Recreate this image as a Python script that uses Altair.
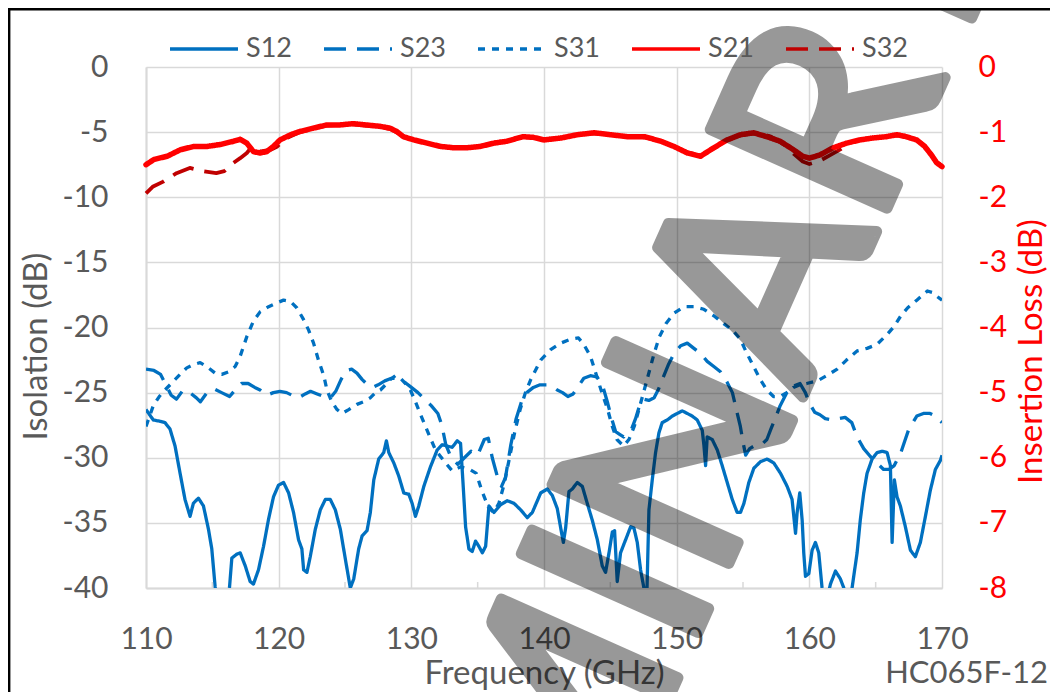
import altair as alt
import pandas as pd

# ---------------- axes / ticks ----------------
FREQ_TICKS = [110, 120, 130, 140, 150, 160, 170]
MINOR_TICKS = [115, 125, 135, 145, 155, 165]
ISO_TICKS = [-40, -35, -30, -25, -20, -15, -10, -5, 0]
IL_TICKS = [-8, -7, -6, -5, -4, -3, -2, -1, 0]
SERIES = ["S12", "S23", "S31", "S21", "S32"]
COLORS = ["#0070c0", "#0070c0", "#0070c0", "#ff0000", "#c00000"]
DASHES = [[1, 0], [22, 11], [7, 7], [1, 0], [22, 11]]

# ---------------- Isolation (dB) ----------------
S12_F = [110.0, 110.55, 111.06, 111.43, 111.81, 112.19, 112.57, 112.94, 113.32, 113.57, 113.95, 114.33, 114.71, 114.96, 115.21, 115.5, 116.0, 116.29, 116.47, 116.85, 117.10, 117.48, 117.85, 118.10, 118.48, 118.86, 119.24, 119.61, 119.99, 120.37, 120.75, 121.12, 121.50, 121.75, 121.88, 122.13, 122.38, 122.76, 123.14, 123.52, 123.89, 124.27, 124.65, 125.03, 125.40, 125.66, 126.03, 126.29, 126.66, 126.91, 127.17, 127.54, 127.92, 128.12, 128.30, 128.68, 129.05, 129.43, 129.81, 130.06, 130.31, 130.56, 130.94, 131.44, 131.95, 132.33, 132.70, 133.08, 133.46, 133.71, 133.9, 134.09, 134.34, 134.59, 134.84, 135.09, 135.35, 135.6, 135.85, 136.23, 136.73, 137.23, 137.74, 138.24, 138.74, 139.12, 139.5, 139.75, 140.25, 140.63, 141.0, 141.26, 141.46, 141.63, 141.88, 142.13, 142.51, 142.89, 143.26, 143.64, 144.02, 144.39, 144.64, 144.9, 145.15, 145.32, 145.52, 145.77, 146.15, 146.53, 146.78, 147.03, 147.28, 147.53, 147.73, 147.91, 148.16, 148.41, 148.66, 148.91, 149.29, 149.67, 150.04, 150.42, 150.8, 151.17, 151.55, 151.93, 152.05, 152.18, 152.3, 152.68, 153.06, 153.43, 153.81, 154.19, 154.56, 154.81, 155.07, 155.44, 155.82, 156.32, 156.82, 157.32, 157.83, 158.33, 158.7, 158.88, 158.96, 159.08, 159.28, 159.46, 159.58, 159.71, 159.96, 160.21, 160.46, 160.71, 160.96, 161.2, 161.59, 161.97, 162.34, 162.6, 162.85, 163.22, 163.6, 163.85, 164.1, 164.35, 164.73, 165.11, 165.48, 165.86, 166.11, 166.24, 166.41, 166.61, 166.86, 167.24, 167.62, 167.99, 168.37, 168.75, 169.12, 169.5, 169.88, 170.0]
S12_DB = [-26.3, -27.1, -27.2, -27.3, -27.8, -29.1, -31.2, -33.2, -34.5, -33.5, -33.1, -33.7, -35.5, -37.0, -39.9, -42.5, -42.0, -40.0, -37.7, -37.4, -37.3, -38.3, -39.5, -39.7, -38.6, -36.8, -34.7, -33.0, -32.1, -31.9, -32.7, -34.2, -36.3, -37.0, -38.6, -38.8, -37.6, -35.5, -34.0, -33.2, -33.2, -34.0, -35.5, -37.8, -40.0, -39.3, -37.0, -36.0, -35.6, -34.2, -31.7, -30.1, -29.6, -28.7, -29.6, -30.4, -31.4, -32.7, -32.8, -33.5, -34.5, -33.7, -32.2, -30.7, -29.4, -29.0, -29.1, -29.2, -28.7, -28.9, -32.0, -35.3, -37.0, -37.2, -36.4, -36.8, -37.3, -36.8, -33.7, -34.2, -33.6, -33.3, -33.5, -34.0, -34.6, -34.2, -33.3, -32.7, -32.4, -32.9, -33.9, -35.4, -36.5, -35.4, -32.6, -32.4, -31.9, -32.2, -33.5, -34.8, -36.3, -38.3, -38.8, -37.3, -35.7, -35.6, -39.5, -37.3, -36.3, -35.3, -35.4, -36.5, -38.6, -40.0, -41.5, -34.0, -31.7, -29.6, -28.1, -27.3, -27.1, -26.8, -26.6, -26.4, -26.6, -26.8, -27.1, -27.9, -29.0, -30.6, -28.4, -28.6, -29.4, -30.6, -31.9, -33.2, -34.2, -34.2, -33.5, -31.9, -30.8, -30.3, -30.1, -30.4, -31.2, -32.2, -33.2, -35.0, -35.8, -34.2, -32.7, -34.8, -37.3, -39.1, -38.9, -37.1, -36.5, -37.3, -40.0, -41.5, -39.7, -38.7, -39.3, -40.0, -42.0, -40.0, -37.3, -34.7, -32.7, -31.2, -30.1, -29.6, -29.5, -29.6, -30.6, -36.5, -31.7, -33.0, -33.7, -35.3, -37.1, -37.6, -36.5, -34.5, -32.5, -30.9, -30.2, -29.8]

S23_F = [110.0, 110.6, 111.1, 111.5, 111.9, 112.3, 112.8, 113.3, 113.8, 114.1, 114.6, 115.1, 115.7, 116.3, 116.8, 117.2, 117.7, 118.2, 118.6, 119.1, 119.6, 120.1, 120.6, 121.0, 121.5, 122.0, 122.4, 122.9, 123.4, 123.9, 124.3, 124.7, 125.1, 125.5, 125.9, 126.3, 126.7, 127.1, 127.5, 128.0, 128.5, 129.0, 129.5, 130.0, 130.5, 131.0, 131.5, 132.0, 132.3, 132.6, 133.0, 133.5, 134.0, 134.5, 135.0, 135.5, 135.8, 136.1, 136.5, 136.8, 137.1, 137.5, 137.9, 138.3, 138.7, 139.2, 139.7, 140.2, 140.6, 141.0, 141.4, 141.8, 142.2, 142.6, 143.0, 143.5, 144.0, 144.4, 144.8, 145.1, 145.4, 145.7, 146.0, 146.3, 146.6, 146.9, 147.2, 147.5, 147.9, 148.3, 148.6, 149.0, 149.4, 149.8, 150.3, 150.8, 151.3, 151.8, 152.3, 152.8, 153.3, 153.8, 154.2, 154.5, 154.8, 155.0, 155.2, 155.5, 156.0, 156.5, 156.8, 157.1, 157.5, 157.8, 158.3, 158.8, 159.3, 159.7, 160.0, 160.4, 160.8, 161.2, 161.7, 162.2, 162.7, 163.2, 163.6, 164.1, 164.6, 165.1, 165.6, 166.0, 166.4, 166.9, 167.2, 167.5, 168.1, 168.6, 169.1, 169.5, 170.0]
S23_DB = [-23.2, -23.3, -23.6, -24.4, -25.2, -25.5, -24.8, -25.0, -25.4, -25.7, -25.0, -24.7, -25.0, -25.3, -24.7, -24.3, -24.3, -24.6, -24.8, -25.2, -25.0, -24.9, -25.0, -25.2, -25.4, -25.1, -24.9, -25.1, -25.3, -25.4, -24.9, -24.0, -23.3, -23.2, -23.5, -24.0, -24.4, -24.6, -24.4, -24.1, -23.9, -23.9, -24.2, -24.6, -25.0, -25.5, -26.0, -26.6, -27.5, -29.0, -30.0, -30.5, -30.0, -29.5, -29.8, -28.6, -28.5, -30.0, -31.5, -32.2, -31.5, -29.0, -27.0, -25.7, -25.0, -24.6, -24.4, -24.4, -24.5, -24.8, -25.0, -25.3, -25.1, -24.5, -23.9, -23.7, -23.8, -24.4, -25.8, -27.0, -28.0, -28.2, -28.4, -28.0, -27.8, -27.0, -26.0, -25.5, -25.6, -25.4, -24.8, -23.8, -22.8, -22.0, -21.4, -21.2, -21.6, -22.0, -22.6, -23.0, -23.4, -24.2, -25.0, -26.3, -27.6, -28.8, -29.8, -29.3, -29.0, -28.9, -28.6, -27.8, -26.8, -26.0, -25.0, -24.5, -24.3, -25.0, -25.8, -26.5, -26.7, -27.0, -27.1, -27.0, -26.9, -27.3, -28.4, -29.3, -29.9, -30.4, -30.9, -30.9, -30.6, -29.6, -28.7, -27.8, -26.8, -26.6, -26.6, -26.8, -27.3]

S31_F = [110.0, 110.55, 111.0, 111.43, 112.0, 112.57, 113.07, 113.57, 114.08, 114.58, 115.21, 115.71, 116.22, 116.72, 117.1, 117.6, 118.1, 118.6, 119.24, 119.87, 120.37, 120.88, 121.38, 121.88, 122.26, 122.63, 123.0, 123.4, 123.64, 124.0, 124.4, 124.77, 125.28, 125.9, 126.4, 126.9, 127.3, 127.67, 128.05, 128.4, 128.8, 129.18, 129.56, 129.93, 130.31, 130.7, 131.07, 131.44, 131.82, 132.2, 132.58, 133.08, 133.7, 134.4, 134.9, 135.3, 135.8, 136.2, 136.6, 137.0, 137.4, 137.8, 138.2, 138.6, 139.0, 139.4, 139.75, 140.5, 141.26, 142.0, 142.6, 143.0, 143.5, 143.9, 144.3, 144.8, 145.15, 145.5, 146.0, 146.4, 146.8, 147.15, 147.5, 147.9, 148.3, 148.7, 149.2, 149.8, 150.55, 151.3, 152.05, 152.8, 153.55, 154.2, 154.8, 155.3, 155.8, 156.3, 156.8, 157.3, 157.8, 158.3, 158.8, 159.3, 159.8, 160.6, 161.3, 162.1, 162.8, 163.6, 164.35, 165.1, 165.9, 166.4, 166.9, 167.4, 168.1, 168.9, 169.25, 169.6, 170.0]
S31_DB = [-27.6, -26.0, -25.3, -24.8, -24.2, -23.6, -23.1, -22.85, -22.7, -23.0, -23.5, -23.6, -23.4, -23.0, -22.2, -20.7, -19.5, -18.8, -18.4, -18.1, -17.9, -18.0, -18.5, -19.4, -20.2, -21.2, -22.5, -23.7, -24.8, -25.7, -26.3, -26.6, -26.3, -25.9, -25.7, -25.4, -25.0, -24.8, -24.4, -24.0, -23.7, -23.9, -24.3, -24.8, -25.7, -26.7, -27.6, -28.5, -29.4, -29.9, -30.4, -31.0, -30.7, -30.9, -31.2, -32.5, -33.8, -34.2, -33.5, -32.0, -30.0, -28.0, -26.3, -25.0, -24.0, -23.2, -22.5, -21.7, -21.2, -20.9, -20.8, -21.3, -22.2, -23.5, -24.8, -26.3, -27.6, -28.6, -29.1, -28.6, -27.6, -26.3, -25.0, -23.5, -22.0, -20.7, -19.7, -18.9, -18.4, -18.4, -18.6, -19.1, -19.7, -20.2, -20.9, -22.0, -23.0, -24.0, -24.8, -25.3, -25.3, -25.0, -24.6, -24.4, -24.3, -24.1, -23.7, -23.2, -22.5, -21.8, -21.6, -21.3, -20.5, -19.9, -19.1, -18.5, -17.9, -17.2, -17.3, -17.6, -17.9]

# ---------------- Insertion loss (dB) ----------------
S21_F = [110.0, 110.6, 111.6, 112.6, 113.6, 114.6, 115.6, 116.6, 117.1, 117.6, 118.1, 118.6, 119.1, 119.6, 120.1, 120.9, 121.6, 122.6, 123.6, 124.6, 125.6, 126.6, 127.6, 128.4, 128.9, 129.4, 130.2, 131.2, 132.2, 133.2, 134.2, 135.2, 136.2, 137.2, 138.4, 139.2, 140.0, 141.3, 142.5, 143.8, 145.0, 146.3, 147.6, 148.8, 149.8, 150.8, 151.8, 152.8, 153.8, 154.8, 155.8, 156.8, 157.8, 158.8, 159.5, 160.0, 160.8, 161.8, 162.8, 163.8, 164.8, 165.8, 166.6, 167.3, 168.1, 168.7, 169.2, 169.6, 170.0]
S21_IL = [-1.50, -1.42, -1.37, -1.27, -1.22, -1.22, -1.19, -1.14, -1.11, -1.17, -1.30, -1.32, -1.30, -1.22, -1.12, -1.04, -0.99, -0.94, -0.89, -0.89, -0.87, -0.89, -0.91, -0.94, -0.99, -1.07, -1.12, -1.17, -1.22, -1.24, -1.24, -1.22, -1.17, -1.14, -1.07, -1.08, -1.12, -1.09, -1.04, -1.01, -1.04, -1.07, -1.07, -1.14, -1.22, -1.32, -1.37, -1.24, -1.12, -1.04, -1.01, -1.07, -1.14, -1.27, -1.37, -1.40, -1.35, -1.24, -1.17, -1.12, -1.09, -1.07, -1.04, -1.07, -1.12, -1.22, -1.35, -1.47, -1.53]

S32_F = [110.0, 110.5, 111.3, 112.3, 113.3, 114.3, 115.3, 115.9, 116.6, 117.1, 117.6, 118.0, 118.6, 119.4, 119.9, 120.5, 121.6, 122.6, 123.6, 124.6, 125.6, 126.6, 127.6, 128.4, 129.4, 130.2, 131.2, 132.2, 133.2, 134.2, 135.2, 136.2, 137.2, 138.4, 140.0, 141.3, 142.5, 143.8, 145.0, 146.3, 147.6, 148.8, 149.8, 150.8, 151.8, 152.8, 153.8, 154.8, 155.8, 156.6, 157.1, 158.1, 158.8, 159.5, 160.0, 160.8, 161.5, 162.3, 163.0, 163.8, 164.8, 165.8, 166.6, 167.3, 168.1, 168.7, 169.2, 169.6, 170.0]
S32_IL = [-1.94, -1.84, -1.76, -1.63, -1.55, -1.60, -1.63, -1.60, -1.47, -1.40, -1.32, -1.22, -1.30, -1.27, -1.22, -1.10, -1.00, -0.95, -0.90, -0.89, -0.88, -0.90, -0.92, -0.95, -1.06, -1.12, -1.17, -1.22, -1.24, -1.24, -1.21, -1.17, -1.13, -1.07, -1.11, -1.09, -1.04, -1.02, -1.04, -1.07, -1.08, -1.14, -1.22, -1.31, -1.36, -1.25, -1.12, -1.05, -1.02, -1.04, -1.07, -1.19, -1.33, -1.45, -1.49, -1.44, -1.36, -1.27, -1.17, -1.12, -1.09, -1.07, -1.05, -1.07, -1.12, -1.21, -1.34, -1.46, -1.52]

WATERMARK = "PRELIMINARY"
PART_NO = "HC065F-12"

W, H = 796, 521
GREY = "#595959"
GRID = "#d9d9d9"
FONT = "Lato"
HYPHEN = "'' + datum.value"


def frame(name, f, v):
    return pd.DataFrame({"f": f, "v": v, "series": name})


blue_df = pd.concat([frame("S12", S12_F, S12_DB),
                     frame("S23", S23_F, S23_DB),
                     frame("S31", S31_F, S31_DB)], ignore_index=True)
s21_df = frame("S21", S21_F, S21_IL)
s32_df = frame("S32", S32_F, S32_IL)
minor_df = pd.DataFrame({"f": MINOR_TICKS})

x_axis = alt.Axis(values=FREQ_TICKS, title="Frequency (GHz)", grid=True,
                  gridColor=GRID, gridWidth=1.5, ticks=False, tickSize=0,
                  domain=True, domainColor=GRID, domainWidth=2,
                  labelFlush=False, labelOverlap=False,
                  labelBaseline="alphabetic", labelPadding=60,
                  titleBaseline="alphabetic", titleY=95, titleX=W / 2)
X = alt.X("f:Q", scale=alt.Scale(domain=[110, 170], nice=False, zero=False), axis=x_axis)

left_axis = alt.Axis(values=ISO_TICKS, title="Isolation (dB)", grid=True,
                     gridColor=GRID, gridWidth=1.5, ticks=False, tickSize=0,
                     domain=True, domainColor=GRID, domainWidth=2,
                     labelFlush=False, labelOverlap=False, labelExpr=HYPHEN,
                     labelPadding=38, labelBaseline="middle",
                     titleAngle=270, titleX=-110, titleY=279,
                     titleAlign="center", titleBaseline="middle")
right_axis = alt.Axis(values=IL_TICKS, title="Insertion Loss (dB)", grid=False,
                      ticks=False, tickSize=0, domain=False, orient="right",
                      labelFlush=False, labelOverlap=False, labelExpr=HYPHEN,
                      labelColor="#ff0000", titleColor="#ff0000",
                      labelPadding=36, labelBaseline="middle",
                      titleAngle=270, titleX=89, titleY=284,
                      titleAlign="center", titleBaseline="middle")

color = alt.Color("series:N", scale=alt.Scale(domain=SERIES, range=COLORS), title=None)
dash = alt.StrokeDash("series:N", scale=alt.Scale(domain=SERIES, range=DASHES), title=None)

blue = alt.Chart(blue_df).mark_line(clip=True, strokeWidth=3.3, strokeJoin="round").encode(
    x=X,
    y=alt.Y("v:Q", scale=alt.Scale(domain=[-40, 0], nice=False), axis=left_axis),
    color=color, strokeDash=dash)

minor = alt.Chart(minor_df).mark_rule(color=GRID, strokeWidth=1.5).encode(
    x=X, y=alt.value(H - 6), y2=alt.value(H))

Y_IL = alt.Y("v:Q", scale=alt.Scale(domain=[-8, 0], nice=False), axis=right_axis)
red32 = alt.Chart(s32_df).mark_line(strokeWidth=3.8, strokeJoin="round").encode(
    x=X, y=Y_IL, color=color, strokeDash=dash)
red21 = alt.Chart(s21_df).mark_line(strokeWidth=5.5, strokeJoin="round", strokeCap="round").encode(
    x=X, y=Y_IL, color=color, strokeDash=dash)

one = pd.DataFrame({"k": [0]})
border = alt.Chart(one).mark_rect(fillOpacity=0, stroke="black", strokeWidth=2.4).encode(
    x=alt.value(-136.8), x2=alt.value(1200), y=alt.value(-57.8), y2=alt.value(900))
part = alt.Chart(one).mark_text(text=PART_NO, font=FONT, fontSize=31, color=GREY,
                                align="right", baseline="alphabetic").encode(
    x=alt.value(902), y=alt.value(616))
mark = alt.Chart(one).mark_text(text=WATERMARK, font=FONT, fontSize=270, color="black",
                                stroke="black", strokeWidth=11, strokeJoin="round",
                                opacity=0.4, angle=294, align="center",
                                baseline="alphabetic").encode(
    x=alt.value(510), y=alt.value(660))

chart = alt.layer(
    alt.layer(blue, minor),
    alt.layer(red32, red21),
    alt.layer(part, border, mark),
).resolve_scale(y="independent").properties(
    width=W, height=H,
    padding={"left": 138, "top": 59, "right": 108, "bottom": 104},
    autosize=alt.AutoSizeParams(type="none"),
).configure_view(stroke=None).configure_axis(
    labelFont=FONT, labelFontSize=30, labelColor=GREY,
    titleFont=FONT, titleFontSize=33, titleColor=GREY, titleFontWeight="normal",
).configure_legend(
    orient="none", legendX=22, legendY=-54, direction="horizontal",
    symbolType="stroke", symbolSize=4624, symbolStrokeWidth=3.3,
    labelFont=FONT, labelFontSize=27, labelColor=GREY, labelOffset=6,
    columnPadding=25, padding=0, offset=0,
)

chart.save("out.html", embed_options={"renderer": "svg", "actions": False})
